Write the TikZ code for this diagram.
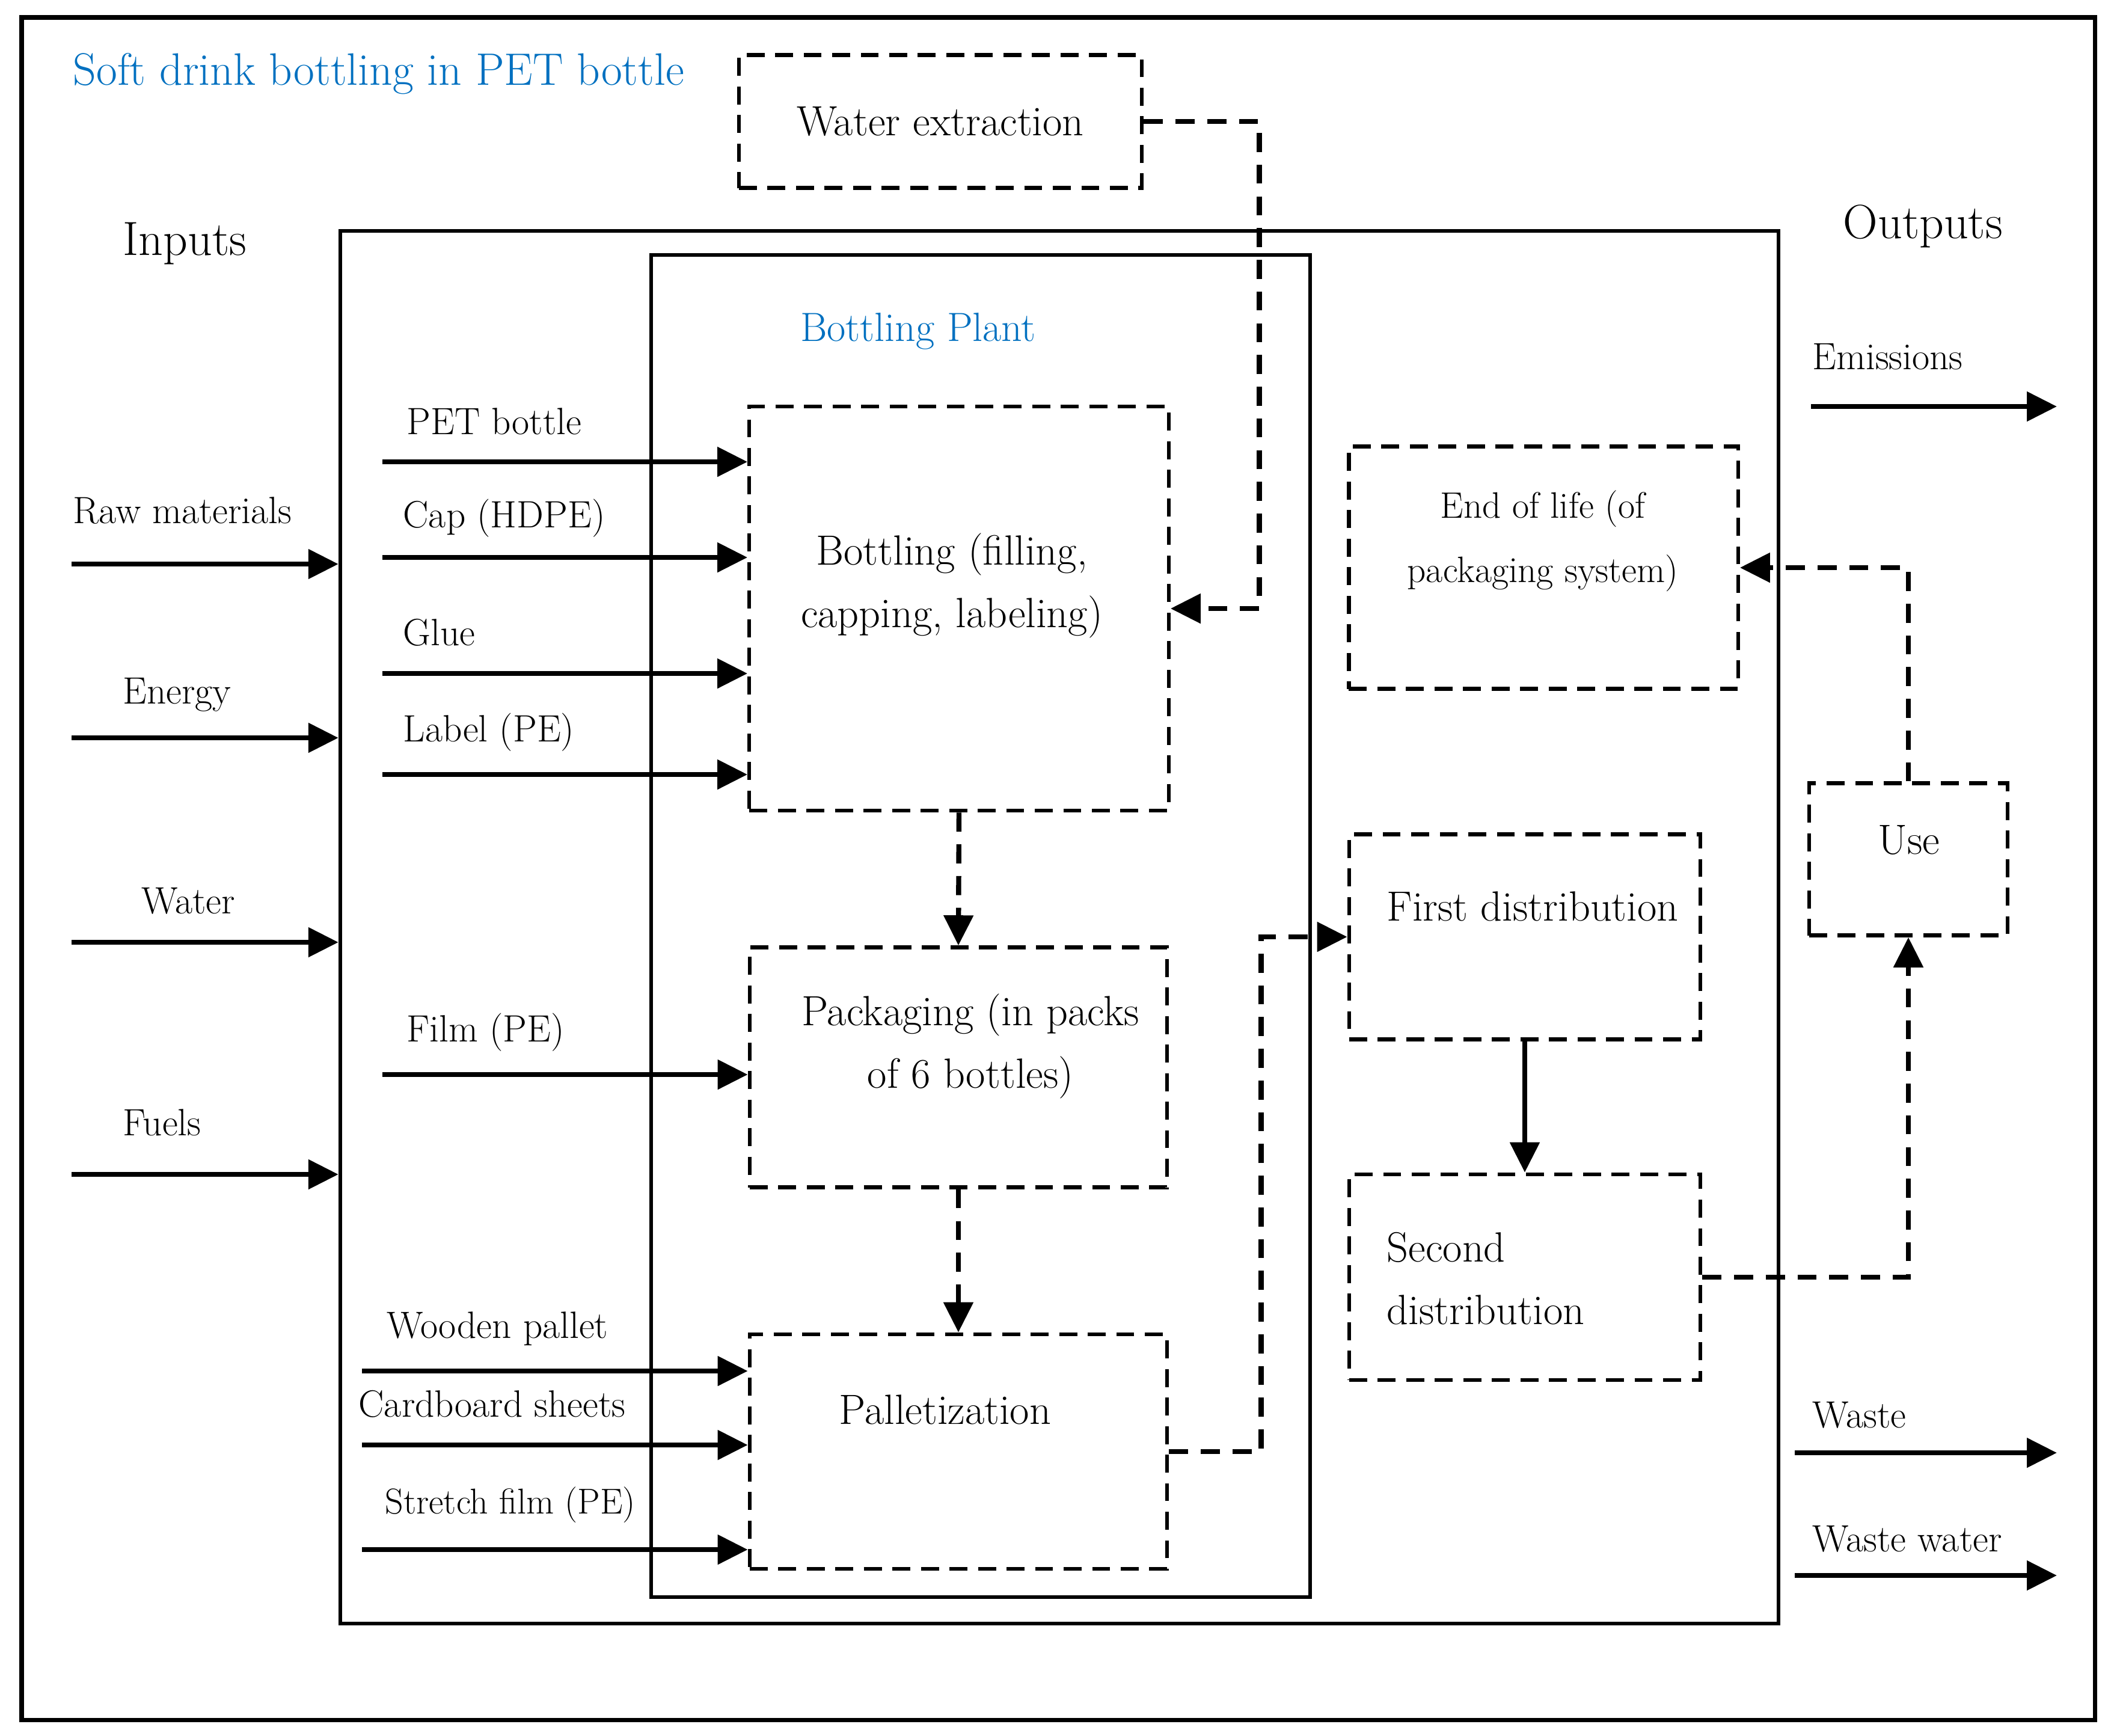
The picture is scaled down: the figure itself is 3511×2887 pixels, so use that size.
\documentclass[tikz,border=0pt]{standalone}
\usepackage{fontspec}
\usepackage{xcolor}
\usepackage{tikz}
\usetikzlibrary{arrows.meta,positioning}
\definecolor{plantblue}{RGB}{0,112,192}
\tikzstyle{arrow} = [line width=2.4pt,-{Triangle[length=0.5cm,width=0.48cm]}]
\tikzstyle{darrow} = [arrow, dash pattern=on 9pt off 6pt]
\tikzstyle{pbox} = [draw, rectangle, line width=1.8pt, dash pattern=on 8.5pt off 5pt]
\tikzstyle{frame} = [draw, rectangle, line width=1.7pt]
\tikzstyle{lbl} = [anchor=west, inner sep=0pt, font=\fontsize{18}{21}\selectfont]
\tikzstyle{boxtxt} = [inner sep=0pt, align=center, font=\fontsize{20}{29.5}\selectfont]
\tikzstyle{head} = [anchor=west, inner sep=0pt, font=\fontsize{22.7}{26}\selectfont]

\begin{document}
\begin{tikzpicture}[x=0.01cm, y=-0.01cm]
            \useasboundingbox (0,0) rectangle (3511,2887);
            % outer frame and title
            \draw[line width=2pt] (36,29) rectangle (3484,2860);
            \node[head, text=plantblue, font=\fontsize{21.5}{25}\selectfont] (title) at (121,123) {Soft drink bottling in PET bottle};
            \node[head] (inputs) at (204,405) {Inputs};
            \node[head] (outputs) at (3065,376) {Outputs};

            % system boundary and plant
            \node[frame, minimum width=23.91cm, minimum height=23.15cm] (sys) at (1762,1542) {};
            \node[frame, minimum width=10.95cm, minimum height=22.31cm] (plant) at (1631,1540) {};
            \node[boxtxt, text=plantblue, font=\fontsize{19.3}{23}\selectfont] (plantname) at (1527,551) {Bottling Plant};

            % process boxes
            \node[pbox, minimum width=6.7cm, minimum height=2.21cm] (we) at (1564,202) {};
            \node[boxtxt] at (we.center) {Water extraction};
            \node[pbox, minimum width=6.97cm, minimum height=6.72cm] (bot) at (1595,1012) {};
            \node[boxtxt] at (1583,974) {Bottling (filling,\\capping, labeling)};
            \node[pbox, minimum width=6.94cm, minimum height=3.99cm] (pack) at (1594,1775) {};
            \node[boxtxt] at (1614,1740) {Packaging (in packs\\of 6 bottles)};
            \node[pbox, minimum width=6.94cm, minimum height=3.9cm] (pal) at (1594,2414) {};
            \node[boxtxt] at (1572,2344) {Palletization};
            \node[pbox, minimum width=5.84cm, minimum height=3.41cm] (fd) at (2536,1558) {};
            \node[boxtxt, anchor=west] at (2306,1507) {First distribution};
            \node[pbox, minimum width=5.84cm, minimum height=3.42cm] (sd) at (2536,2124) {};
            \node[boxtxt, anchor=west, align=left] at (2306,2126) {Second\\distribution};
            \node[pbox, minimum width=6.47cm, minimum height=4.03cm] (eol) at (2567,944) {};
            \node[boxtxt, font=\fontsize{17.4}{30.5}\selectfont] at (2566,900) {End of life (of\\packaging system)};
            \node[pbox, minimum width=3.3cm, minimum height=2.53cm] (use) at (3174,1429) {};
            \node[boxtxt] at (3175,1397) {Use};

            % flows between processes
            \draw[darrow] (we.east) -- ++(192,0) |- (bot.east);
            \draw[darrow] (bot.south) -- (pack.north);
            \draw[darrow] (pack.south) -- (pal.north);
            \draw[darrow] (pal.east) -- ++(153,0) |- (fd.west);
            \draw[arrow] (fd.south) -- (sd.north);
            \draw[darrow] (sd.east) -| (use.south);
            \draw[darrow] (use.north) |- (eol.east);

            % inputs to the system
            \node[lbl] (raw) at (121,849) {Raw materials};
            \node[lbl] (energy) at (204,1155) {Energy};
            \node[lbl] (water) at (235,1498) {Water};
            \node[lbl] (fuels) at (204,1867) {Fuels};
            \coordinate (rawin) at (119,938);
            \coordinate (energyin) at (119,1227);
            \coordinate (waterin) at (119,1567);
            \coordinate (fuelsin) at (119,1953);
            \draw[arrow] (rawin) -- (rawin -| sys.west);
            \draw[arrow] (energyin) -- (energyin -| sys.west);
            \draw[arrow] (waterin) -- (waterin -| sys.west);
            \draw[arrow] (fuelsin) -- (fuelsin -| sys.west);

            % materials to the plant
            \node[lbl] (pet) at (676,701) {PET bottle};
            \node[lbl] (cap) at (670,862) {Cap (HDPE)};
            \node[lbl] (glue) at (670,1052) {Glue};
            \node[lbl] (label) at (670,1218) {Label (PE)};
            \node[lbl] (film) at (676,1717) {Film (PE)};
            \node[lbl] (wood) at (643,2210) {Wooden pallet};
            \node[lbl] (card) at (596,2335) {Cardboard sheets};
            \node[lbl, font=\fontsize{17}{20}\selectfont] (stretch) at (640,2503) {Stretch film (PE)};
            \coordinate (petin) at (636,768);
            \coordinate (capin) at (636,927);
            \coordinate (gluein) at (636,1120);
            \coordinate (labelin) at (636,1288);
            \coordinate (filmin) at (636,1787);
            \coordinate (woodin) at (602,2280);
            \coordinate (cardin) at (602,2403);
            \coordinate (stretchin) at (602,2577);
            \draw[arrow] (petin) -- (petin -| bot.west);
            \draw[arrow] (capin) -- (capin -| bot.west);
            \draw[arrow] (gluein) -- (gluein -| bot.west);
            \draw[arrow] (labelin) -- (labelin -| bot.west);
            \draw[arrow] (filmin) -- (filmin -| pack.west);
            \draw[arrow] (woodin) -- (woodin -| pal.west);
            \draw[arrow] (cardin) -- (cardin -| pal.west);
            \draw[arrow] (stretchin) -- (stretchin -| pal.west);

            % outputs
            \node[lbl] (emi) at (3014,593) {Emissions};
            \node[lbl] (waste) at (3014,2353) {Waste};
            \node[lbl] (ww) at (3014,2559) {Waste water};
            \coordinate (emiout) at (3012,676);
            \coordinate (wasteout) at (2985,2416);
            \coordinate (wwout) at (2985,2620);
            \draw[arrow] (emiout) -- ++(409,0);
            \draw[arrow] (wasteout) -- ++(436,0);
            \draw[arrow] (wwout) -- ++(436,0);
        \end{tikzpicture}
\end{document}
